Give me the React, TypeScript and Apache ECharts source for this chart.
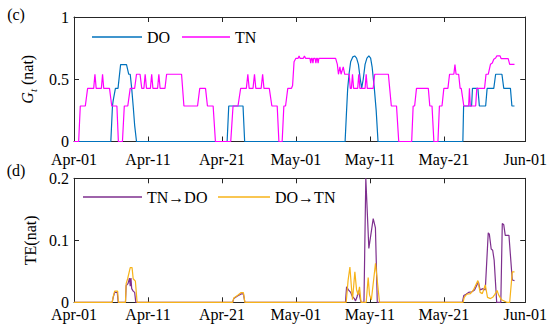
import React, { useEffect, useRef } from 'react';
import * as echarts from 'echarts';

// Entropy levels (nat)
const L1 = 0.285;
const L2 = 0.427;
const L3 = 0.54;
const P = 0.617;
const M = 0.668;
const H = 0.687;

// x = days since Apr-01
const DO_G: [number, number][] = [
  [0, 0], [4.98, 0], [5.2, L1], [5.3, 0.33], [5.6, L2], [5.95, L2], [6.3, P], [7.1, P], [7.4, L3], [7.6, L3],
  [7.8, L2], [8.0, L1], [8.2, 0.13], [8.45, 0],
  [20.7, 0], [20.92, L1], [22.85, L1], [23.07, 0],
  [36.65, 0], [36.85, 0.25], [37.0, L2], [37.2, 0.55], [37.4, 0.64], [37.7, 0.68], [37.95, H], [38.2, 0.67],
  [38.45, 0.62], [38.7, 0.5], [38.9, 0.43], [39.1, 0.5], [39.35, 0.62], [39.6, 0.67], [39.86, H], [40.1, 0.67],
  [40.3, 0.6], [40.6, L2], [40.85, 0.25], [41.1, 0],
  [52.57, 0], [52.67, L1], [53.75, L1], [53.87, L2], [54.6, L2], [54.8, L1], [55.65, L1], [55.85, L2], [56.75, L2],
  [57.0, L3], [57.85, L3], [58.1, L2], [59.0, L2], [59.2, L1], [59.55, L1],
];

const TN_G: [number, number][] = [
  [0, 0], [0.63, 0], [0.85, L1], [1.53, L1], [1.84, L2], [2.66, L2], [2.83, L3], [3.0, L2], [3.7, L2], [3.86, L3],
  [4.02, L2], [4.8, L2], [5.1, L1], [5.8, L1], [6.0, 0], [6.55, 0], [6.8, L1], [7.27, L1], [7.6, L2], [8.2, L2],
  [8.45, L3], [8.93, L3], [9.16, L2], [9.45, L2], [9.62, L3], [9.8, L2], [10.33, L2], [10.5, L3], [10.67, L2],
  [11.3, L2], [11.47, L3], [11.64, L2], [12.3, L2], [12.52, L3], [14.54, L3], [14.86, L1], [16.7, L1], [17.0, L2],
  [17.78, L2], [18.04, L1], [18.81, L1], [19.12, 0],
  [21.19, 0], [21.5, L1], [22.17, L1], [22.53, L2], [23.3, L2], [23.5, L3], [23.68, L2], [24.2, L2], [24.4, L3],
  [24.58, L2], [25.3, L2], [25.5, L3], [25.68, L2], [26.4, L2], [26.75, L1], [27.47, L1], [27.7, 0], [28.14, 0],
  [28.37, L1], [28.6, L1], [28.9, L2], [29.4, L2], [29.55, 0.45], [29.75, 0.64], [30.0, M], [30.3, M], [30.43, H],
  [30.56, M], [31.0, M], [31.15, H], [31.3, M], [31.9, M], [32.0, 0.63], [32.1, M], [32.2, M], [32.3, 0.63],
  [32.4, M], [32.6, M], [32.7, 0.63], [32.8, M], [32.9, M], [33.0, 0.63], [33.1, M], [35.37, M], [35.6, 0.62],
  [35.75, L3], [35.95, 0.6], [36.1, L3], [36.4, 0.6], [36.6, L3], [37.2, L3], [37.35, L2], [37.5, L2], [37.65, L3],
  [37.8, L2], [38.35, L2], [38.5, L3], [38.65, L2], [39.35, L2], [39.5, L3], [39.65, L2], [40.45, L2], [40.65, L3],
  [42.5, L3], [42.9, L1], [43.6, L1], [43.9, 0], [45.65, 0], [45.85, L1], [46.05, L1], [46.3, L2], [47.9, L2],
  [48.1, L1], [48.4, L1], [48.65, 0], [49.2, 0], [49.4, L1], [49.75, L1], [50.0, L2], [50.55, L2], [50.77, L3],
  [51.35, L3], [51.5, P], [51.65, L3], [52.0, L3], [52.2, L2], [52.35, L2], [52.7, L1], [53.35, L1], [53.46, L2],
  [53.57, L1], [54.3, L1], [54.45, L2], [55.5, L2], [55.7, L3], [56.0, L3], [56.3, 0.62], [56.55, 0.63],
  [56.75, 0.66], [57.0, 0.67], [57.15, H], [57.6, H], [57.75, 0.665], [58.7, 0.665], [58.9, 0.62], [59.55, 0.62],
];

const TE_TN_DO: [number, number][] = [
  [0, 0], [5.16, 0], [5.3, 0.008], [5.5, 0.016], [5.85, 0.016], [5.97, 0],
  [6.96, 0], [7.05, 0.027], [7.3, 0.03], [7.5, 0.039], [7.6, 0.026], [7.7, 0.039], [7.8, 0.022], [8.0, 0.018],
  [8.2, 0.016], [8.35, 0],
  [21.45, 0], [21.6, 0.006], [22.1, 0.01], [22.6, 0.0135], [22.9, 0.0135], [23.1, 0],
  [36.7, 0], [36.85, 0.025], [37.1, 0.02], [37.4, 0.016], [37.6, 0.01], [37.9, 0.006], [38.05, 0.002],
  [38.25, 0.008], [38.45, 0.019], [38.8, 0], [39.2, 0], [39.45, 0.2], [39.86, 0.087], [40.45, 0.135],
  [40.75, 0.12], [41.0, 0],
  [52.5, 0], [52.7, 0.011], [53.0, 0.013], [53.35, 0.016], [53.8, 0.017], [54.15, 0.02], [54.67, 0.033],
  [54.9, 0.02], [55.3, 0.022], [55.6, 0.02], [56.0, 0.112], [56.15, 0.11], [56.4, 0.086], [56.6, 0.084],
  [56.8, 0.068], [57.14, 0], [57.7, 0], [57.9, 0.127], [58.1, 0.125], [58.3, 0.108], [58.8, 0.108],
  [59.25, 0.036], [59.55, 0.035],
];

const TE_DO_TN: [number, number][] = [
  [0, 0], [5.16, 0], [5.3, 0.009], [5.5, 0.018], [5.9, 0.018], [6.0, 0],
  [6.96, 0], [7.05, 0.03], [7.25, 0.038], [7.6, 0.056], [7.85, 0.056], [8.0, 0.038], [8.3, 0.034], [8.53, 0],
  [21.45, 0], [21.6, 0.007], [22.1, 0.011], [22.6, 0.0157], [22.9, 0.0157], [23.1, 0],
  [36.8, 0], [37.05, 0.035], [37.3, 0.057], [37.5, 0.025], [37.65, 0.004], [37.97, 0.049], [38.2, 0.02],
  [38.4, 0.012], [38.6, 0.025], [38.8, 0], [39.5, 0], [39.77, 0.04], [39.95, 0.012], [40.2, 0.004],
  [40.76, 0.063], [41.3, 0],
  [52.6, 0], [52.75, 0.008], [53.1, 0.013], [53.6, 0.014], [54.0, 0.02], [54.6, 0.035], [54.9, 0.016],
  [55.2, 0.014], [55.6, 0.028], [55.9, 0.008], [56.3, 0.006], [56.6, 0.008], [56.85, 0.012], [57.2, 0.019],
  [57.4, 0.012], [57.8, 0.004], [58.5, 0], [58.9, 0], [59.25, 0.049], [59.55, 0.049],
];

const TICK_DAYS = [0, 10, 20, 30, 40, 50, 61];
const TICK_LABELS = ['Apr-01', 'Apr-11', 'Apr-21', 'May-01', 'May-11', 'May-21', 'Jun-01'];
const G_TICKS = [0, 0.5, 1];
const TE_TICKS = [0, 0.1, 0.2];

const FONT = 'Liberation Serif';
const AX = '#262626';
const C_DO = '#0072BD';
const C_TN = '#FF00FF';
const C_TNDO = '#7E2F8E';
const C_DOTN = '#F7B319';

function xLabel(v: number): string {
  const i = TICK_DAYS.indexOf(Math.round(v));
  return i >= 0 ? TICK_LABELS[i] : '';
}

function makeX(grid: number, position: string, show: boolean, margin: number) {
  return {
    type: 'value',
    gridIndex: grid,
    position,
    min: TICK_DAYS[0],
    max: TICK_DAYS[TICK_DAYS.length - 1],
    axisLine: { show: true, onZero: false, lineStyle: { color: AX, width: 1 } },
    axisTick: { show: true, inside: true, length: 5, customValues: TICK_DAYS, lineStyle: { color: AX } },
    axisLabel: {
      show,
      customValues: TICK_DAYS,
      formatter: xLabel,
      margin,
      fontFamily: FONT,
      fontSize: 16,
      color: '#000',
      hideOverlap: false,
      showMinLabel: true,
      showMaxLabel: true,
    },
    splitLine: { show: false },
  };
}

function makeY(grid: number, position: string, show: boolean, ticks: number[], extra: any) {
  return {
    type: 'value',
    gridIndex: grid,
    position,
    min: ticks[0],
    max: ticks[ticks.length - 1],
    interval: ticks[1] - ticks[0],
    axisLine: { show: true, onZero: false, lineStyle: { color: AX, width: 1 } },
    axisTick: { show: true, inside: true, length: 5, lineStyle: { color: AX } },
    axisLabel: { show, margin: 5, fontFamily: FONT, fontSize: 16, color: '#000' },
    splitLine: { show: false },
    ...extra,
  };
}

const legendText = { fontFamily: FONT, fontSize: 16, color: '#000' };

export default function App() {
  const ref = useRef<HTMLDivElement>(null);
  useEffect(() => {
    document.body.style.margin = '0';
    const chart = echarts.init(ref.current!, undefined, { renderer: 'svg' });
    chart.setOption({
      animation: false,
      backgroundColor: '#fff',
      textStyle: { fontFamily: FONT },
      grid: [
        { left: 74, right: 23, top: 17, height: 124.5 },
        { left: 74, right: 23, top: 178.3, height: 124 },
      ],
      xAxis: [
        makeX(0, 'bottom', true, 10),
        makeX(1, 'bottom', true, 4),
        makeX(0, 'top', false, 0),
        makeX(1, 'top', false, 0),
      ],
      yAxis: [
        makeY(0, 'left', true, G_TICKS, {
          name: '{g|G}{t|t} (nat)',
          nameLocation: 'middle',
          nameGap: 32,
          nameTextStyle: {
            fontFamily: FONT,
            fontSize: 16,
            color: '#000',
            rich: {
              g: { fontFamily: FONT, fontSize: 16, fontStyle: 'italic', color: '#000', lineHeight: 22 },
              t: { fontFamily: FONT, fontSize: 11, fontStyle: 'italic', color: '#000', lineHeight: 10, verticalAlign: 'bottom' },
            },
          },
        }),
        makeY(1, 'left', true, TE_TICKS, {
          name: 'TE(nat)',
          nameLocation: 'middle',
          nameGap: 33,
          nameTextStyle: { fontFamily: FONT, fontSize: 16, color: '#000' },
        }),
        makeY(0, 'right', false, G_TICKS, {}),
        makeY(1, 'right', false, TE_TICKS, {}),
      ],
      legend: [
        { data: ['DO'], left: 92, top: 29, itemWidth: 50, itemHeight: 1.5, icon: 'rect', padding: 0, selectedMode: false, textStyle: legendText },
        { data: ['TN'], left: 182, top: 29, itemWidth: 48, itemHeight: 1.5, icon: 'rect', padding: 0, selectedMode: false, textStyle: legendText },
        { data: ['TN→DO'], left: 83, top: 189, itemWidth: 59, itemHeight: 1.5, icon: 'rect', padding: 0, selectedMode: false, textStyle: legendText },
        { data: ['DO→TN'], left: 218, top: 189, itemWidth: 52, itemHeight: 1.5, icon: 'rect', padding: 0, selectedMode: false, textStyle: legendText },
      ],
      graphic: [
        { type: 'text', x: 16, y: 14, style: { text: '(c)', fontFamily: FONT, fontSize: 16, fill: '#000', align: 'center', verticalAlign: 'middle' } },
        { type: 'text', x: 16, y: 170, style: { text: '(d)', fontFamily: FONT, fontSize: 16, fill: '#000', align: 'center', verticalAlign: 'middle' } },
      ],
      series: [
        { name: 'DO', type: 'line', xAxisIndex: 0, yAxisIndex: 0, data: DO_G, symbol: 'none', color: C_DO, lineStyle: { width: 1.2, color: C_DO } },
        { name: 'TN', type: 'line', xAxisIndex: 0, yAxisIndex: 0, data: TN_G, symbol: 'none', color: C_TN, lineStyle: { width: 1.2, color: C_TN } },
        { name: 'TN→DO', type: 'line', xAxisIndex: 1, yAxisIndex: 1, data: TE_TN_DO, symbol: 'none', color: C_TNDO, lineStyle: { width: 1.2, color: C_TNDO } },
        { name: 'DO→TN', type: 'line', xAxisIndex: 1, yAxisIndex: 1, data: TE_DO_TN, symbol: 'none', color: C_DOTN, lineStyle: { width: 1.2, color: C_DOTN } },
      ],
    });
    return () => chart.dispose();
  }, []);
  return <div ref={ref} style={{ width: 550, height: 334 }} />;
}
